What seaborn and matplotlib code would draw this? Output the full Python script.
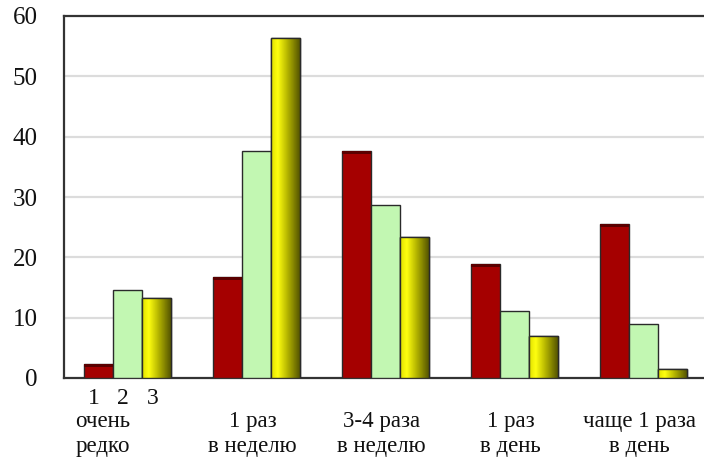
import numpy as np
import pandas as pd
import matplotlib
matplotlib.use("Agg")
import matplotlib.pyplot as plt
import seaborn as sns
from matplotlib.colors import LinearSegmentedColormap
from matplotlib.transforms import blended_transform_factory

# Frequency categories (x axis)
categories = ["очень\nредко", "1 раз\nв неделю", "3-4 раза\nв неделю",
              "1 раз\nв день", "чаще 1 раза\nв день"]
series = ["1", "2", "3"]

# Percentages for each series
values_1 = [2.4, 16.7, 37.7, 18.9, 25.5]
values_2 = [14.6, 37.7, 28.7, 11.1, 9.0]
values_3 = [13.3, 56.4, 23.4, 7.0, 1.5]

y_ticks = [0, 10, 20, 30, 40, 50, 60]

df = pd.DataFrame({
    "cat": categories * 3,
    "series": [s for s in series for _ in categories],
    "val": values_1 + values_2 + values_3,
})

sns.set_theme(style="white")
plt.rcParams["font.family"] = ["Liberation Serif", "DejaVu Serif"]

fig = plt.figure(figsize=(7.04, 4.59), dpi=100)
ax = fig.add_axes([64 / 704, (459 - 378) / 459, 1 - 64 / 704, (378 - 16) / 459])

palette = {"1": "#A50000", "2": "#C2F7B2", "3": "#E0E000"}
sns.barplot(data=df, x="cat", y="val", hue="series", order=categories,
            hue_order=series, palette=palette, width=0.675, dodge=True,
            edgecolor="#2a2a2a", linewidth=1.0, saturation=1.0, legend=False,
            ax=ax, zorder=3)

ax.set_ylim(0, 60)
ax.set_xlim(-0.49, 4.47)
ax.set_yticks(y_ticks)
ax.set_yticklabels([str(t) for t in y_ticks], fontsize=18, color="#111111")
ax.tick_params(axis="y", length=0, pad=19)
ax.set_xticks([])
ax.set_xlabel("")
ax.set_ylabel("")

# Light horizontal grid
for t in y_ticks[1:-1]:
    ax.axhline(t, color="#dcdcdc", lw=1.6, zorder=1)

for side in ["left", "bottom", "top"]:
    ax.spines[side].set_visible(True)
    ax.spines[side].set_color("#333333")
    ax.spines[side].set_linewidth(1.6)
ax.spines["right"].set_visible(False)

# Gradient shading on the third series
cmap = LinearSegmentedColormap.from_list(
    "gold", [(0.0, "#e0e000"), (0.22, "#ffff10"), (0.55, "#b5b500"), (1.0, "#4e4e00")])
grad = np.linspace(0, 1, 64).reshape(1, -1)
n = len(categories)
bars = ax.patches
for p in bars[2 * n:3 * n]:
    x0, y0 = p.get_x(), p.get_y()
    w, h = p.get_width(), p.get_height()
    im = ax.imshow(grad, cmap=cmap, extent=[x0, x0 + w, y0, y0 + h],
                   aspect="auto", zorder=3.5, interpolation="bicubic")
    im.set_clip_path(p)
    ax.add_patch(plt.Rectangle((x0, y0), w, h, fill=False,
                               edgecolor="#2a2a2a", lw=1.0, zorder=4))
# Darker top cap on the red bars
for p in bars[:n]:
    x0, w, h = p.get_x(), p.get_width(), p.get_height()
    ax.add_patch(plt.Rectangle((x0, h - 0.5), w, 0.5, color="#5a0000",
                               lw=0, zorder=4))
ax.set_xlim(-0.49, 4.47)
ax.set_ylim(0, 60)

# Category labels below the axis
trans = blended_transform_factory(ax.transData, ax.transAxes)
for i, c in enumerate(categories):
    xpos = i - 0.19 if i == 0 else i - 0.03
    ax.text(xpos, -0.09, c, transform=trans, ha="center", va="top",
            fontsize=16.5, linespacing=1.3, color="#111111", clip_on=False)

# Series numbers under the first group
for j, s in enumerate(series):
    ax.text(0 + (j - 1) * 0.225 - 0.03, -0.058, s, transform=trans,
            ha="center", va="center", fontsize=17, color="#111111")

fig.savefig("out.png", dpi=100)
